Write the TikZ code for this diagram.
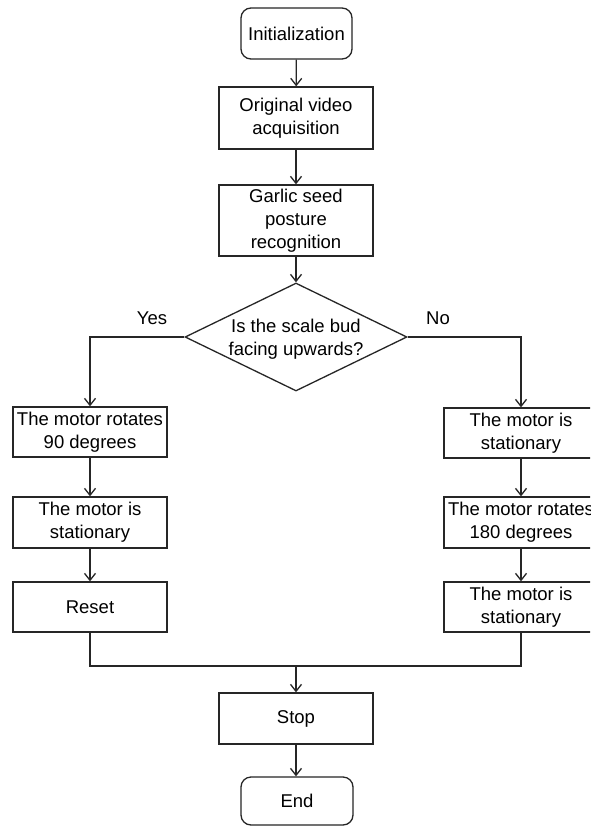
\documentclass[tikz,border=0pt]{standalone}
\usepackage{fontspec}
\setmainfont{Liberation Sans}
\usetikzlibrary{shapes.geometric,arrows.meta}
\begin{document}
\begin{tikzpicture}[x=1pt,y=-1pt,
  font=\fontsize{18.5}{23}\selectfont,
  line width=1.3pt,
  box/.style={draw=black!85, rectangle, minimum width=154pt, inner sep=1pt, align=center},
  term/.style={draw=black!85, rectangle, rounded corners=10pt, inner sep=1pt, align=center},
  arr/.style={draw=black!85, -{Straight Barb[length=7pt,width=11pt,line width=1.3pt]}},
  ln/.style={draw=black!85}]
\useasboundingbox (0,0) rectangle (590,827);
\clip (0,0) rectangle (590,827);
\fill[white] (0,0) rectangle (590,827);
\node[term, minimum width=111pt, minimum height=51pt] (init) at (296.5,33.5) {Initialization};
\node[box, minimum height=62pt] (orig) at (296,118) {Original video\\acquisition};
\node[box, minimum height=71pt] (garlic) at (296,220.5) {Garlic seed\\posture\\recognition};
\node[diamond, draw=black!85, minimum width=222pt, minimum height=108pt, inner sep=0pt] (dec) at (296,337) {};
\node[align=center] (dectext) at (296,339) {Is the scale bud\\facing upwards?};
\node[box, minimum height=50pt] (l1) at (90,432) {The motor rotates\\90 degrees};
\node[box, minimum height=51pt] (l2) at (90,522.5) {The motor is\\stationary};
\node[box, minimum height=50pt] (l3) at (90,607) {Reset};
\node[box, minimum height=50pt] (r1) at (521,433) {The motor is\\stationary};
\node[box, minimum height=51pt] (r2) at (521,522.5) {The motor rotates\\180 degrees};
\node[box, minimum height=50pt] (r3) at (521,607) {The motor is\\stationary};
\node[box, minimum height=51pt] (stop) at (296,718.5) {Stop};
\node[term, minimum width=112pt, minimum height=48pt] (end) at (297,801) {End};
\node (yes) at (152,318) {Yes};
\node (no) at (438,318) {No};
\coordinate (m) at (296,666);
\draw[arr] (init) -- (orig);
\draw[arr] (orig) -- (garlic);
\draw[arr] (garlic) -- (dec.north);
\draw[arr] (dec.west) -| (l1.north);
\draw[arr] (dec.east) -| (r1.north);
\draw[arr] (l1) -- (l2);
\draw[arr] (l2) -- (l3);
\draw[arr] (r1) -- (r2);
\draw[arr] (r2) -- (r3);
\draw[ln] (l3.south) |- (m);
\draw[ln] (r3.south) |- (m);
\draw[arr] (m) -- (stop.north);
\draw[arr] (stop.south) -- (end.north -| stop.south);
\end{tikzpicture}
\end{document}
